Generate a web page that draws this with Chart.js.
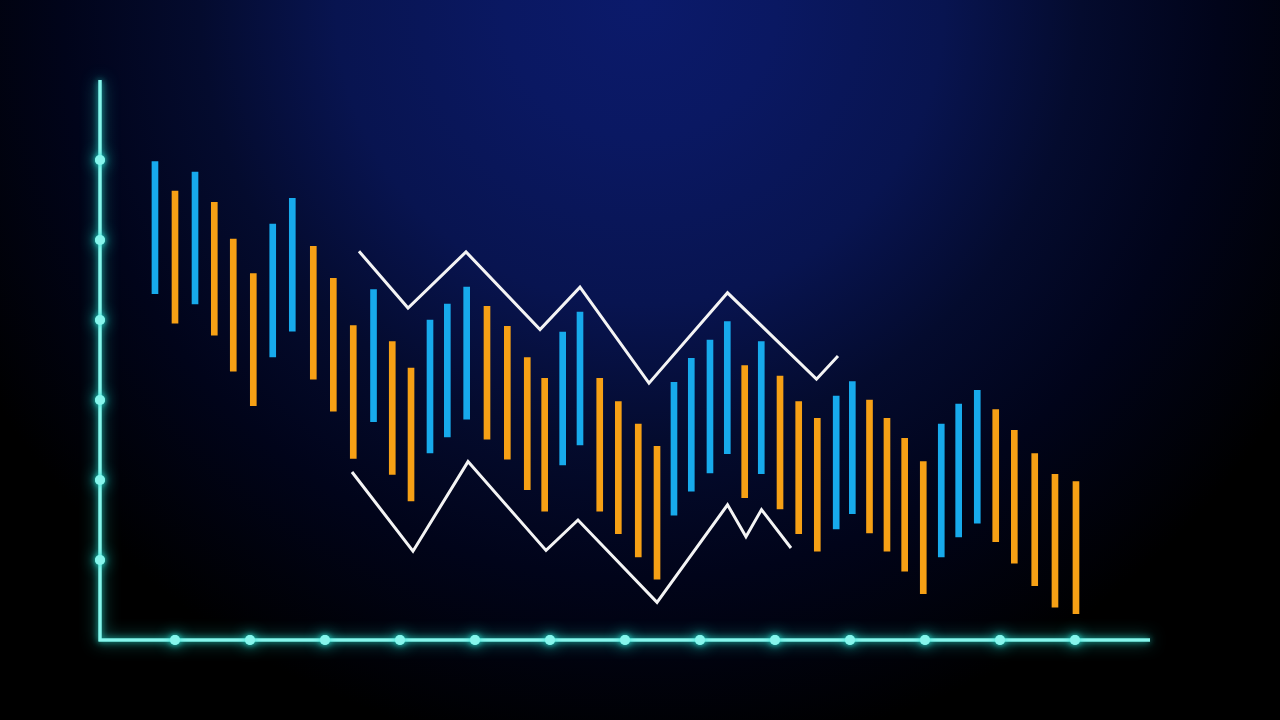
<!DOCTYPE html>
<html>
<head>
<meta charset="utf-8">
<script src="https://cdn.jsdelivr.net/npm/chart.js@4"></script>
<style>
  html, body { margin: 0; padding: 0; width: 1280px; height: 720px; overflow: hidden; }
  body {
    background: #000 radial-gradient(circle 760px at 640px 0px,
      #0b1a6b 0%, #0a1862 18%, #081450 40%, #040b2e 58%, #01041a 76%, #000 100%);
  }
  #c { display: block; }
</style>
</head>
<body>
<canvas id="c" width="1280" height="720"></canvas>
<script>
// Axis ticks
const xTicks = [1, 2, 3, 4, 5, 6, 7, 8, 9, 10, 11, 12, 13];
const yTicks = [1, 2, 3, 4, 5, 6];

// Blue (rising) floating bars
const blueX    = [0.733, 1.267, 2.303, 2.564, 3.647, 4.4, 4.631, 4.889, 6.169, 6.4, 7.653, 7.884, 8.133, 8.364, 8.817, 9.816, 10.031, 11.217, 11.449, 11.697];
const blueLow  = [4.33, 4.2, 3.54, 3.86, 2.73, 2.34, 2.54, 2.76, 2.19, 2.44, 1.56, 1.86, 2.09, 2.33, 2.08, 1.39, 1.58, 1.04, 1.29, 1.46];
const blueHigh = [5.98, 5.85, 5.2, 5.52, 4.38, 4.0, 4.2, 4.41, 3.85, 4.1, 3.22, 3.52, 3.75, 3.98, 3.73, 3.05, 3.23, 2.7, 2.95, 3.12];

// Orange (falling) floating bars
const orangeX    = [1.0, 1.524, 1.777, 2.044, 2.844, 3.111, 3.377, 3.897, 4.147, 5.16, 5.431, 5.697, 5.929, 6.663, 6.911, 7.177, 7.427, 8.596, 9.067, 9.316, 9.564, 10.26, 10.493, 10.729, 10.977, 11.943, 12.191, 12.463, 12.733, 13.013];
const orangeLow  = [3.96, 3.81, 3.36, 2.93, 3.26, 2.86, 2.27, 2.07, 1.74, 2.51, 2.26, 1.88, 1.61, 1.61, 1.33, 1.04, 0.76, 1.78, 1.64, 1.33, 1.11, 1.34, 1.11, 0.86, 0.58, 1.23, 0.96, 0.68, 0.41, 0.33];
const orangeHigh = [5.61, 5.47, 5.01, 4.58, 4.92, 4.52, 3.93, 3.73, 3.4, 4.17, 3.92, 3.53, 3.27, 3.27, 2.98, 2.7, 2.42, 3.43, 3.3, 2.98, 2.77, 3.0, 2.77, 2.52, 2.23, 2.88, 2.62, 2.33, 2.07, 1.98];

// Upper and lower channel lines
const upperX = [3.453, 4.107, 4.88, 5.867, 6.4, 7.32, 8.367, 9.553, 9.84];
const upperY = [4.86, 4.15, 4.85, 3.88, 4.41, 3.21, 4.34, 3.26, 3.55];
const lowerX = [3.36, 4.173, 4.907, 5.947, 6.373, 7.427, 8.367, 8.613, 8.82, 9.213];
const lowerY = [2.1, 1.11, 2.23, 1.12, 1.5, 0.47, 1.69, 1.29, 1.63, 1.15];

const X_MIN = 0, X_MAX = 14, Y_MIN = 0, Y_MAX = 7;

const glowAxes = {
  id: 'glowAxes',
  beforeDatasetsDraw(chart) {
    const ctx = chart.ctx;
    const xs = chart.scales.x, ys = chart.scales.y;
    const x0 = xs.getPixelForValue(X_MIN), x1 = xs.getPixelForValue(X_MAX);
    const y0 = ys.getPixelForValue(Y_MIN), y1 = ys.getPixelForValue(Y_MAX);
    ctx.save();
    for (let pass = 0; pass < 2; pass++) {
      ctx.shadowColor = 'rgba(40, 230, 215, 0.9)';
      ctx.shadowBlur = pass === 0 ? 16 : 6;
      ctx.strokeStyle = '#86f5ec';
      ctx.fillStyle = '#86f5ec';
      ctx.lineWidth = 3;
      ctx.lineCap = 'butt';
      ctx.beginPath();
      ctx.moveTo(x0, y1);
      ctx.lineTo(x0, y0);
      ctx.lineTo(x1, y0);
      ctx.stroke();
      yTicks.forEach(v => {
        ctx.beginPath();
        ctx.arc(x0, ys.getPixelForValue(v), 5, 0, Math.PI * 2);
        ctx.fill();
      });
      xTicks.forEach(v => {
        ctx.beginPath();
        ctx.arc(xs.getPixelForValue(v), y0, 5, 0, Math.PI * 2);
        ctx.fill();
      });
    }
    ctx.restore();
  }
};

new Chart(document.getElementById('c'), {
  type: 'bar',
  data: {
    datasets: [
      {
        type: 'bar',
        label: 'Up',
        data: blueX.map((x, i) => ({ x: x, y: [blueLow[i], blueHigh[i]] })),
        backgroundColor: '#17aaec',
        borderWidth: 0,
        barThickness: 6,
        grouped: false
      },
      {
        type: 'bar',
        label: 'Down',
        data: orangeX.map((x, i) => ({ x: x, y: [orangeLow[i], orangeHigh[i]] })),
        backgroundColor: '#f6a015',
        borderWidth: 0,
        barThickness: 6,
        grouped: false
      },
      {
        type: 'line',
        label: 'Upper',
        data: upperX.map((x, i) => ({ x: x, y: upperY[i] })),
        borderColor: '#f4f4f4',
        borderWidth: 3,
        pointRadius: 0,
        tension: 0,
        fill: false,
        borderJoinStyle: 'miter'
      },
      {
        type: 'line',
        label: 'Lower',
        data: lowerX.map((x, i) => ({ x: x, y: lowerY[i] })),
        borderColor: '#f4f4f4',
        borderWidth: 3,
        pointRadius: 0,
        tension: 0,
        fill: false,
        borderJoinStyle: 'miter'
      }
    ]
  },
  options: {
    responsive: false,
    animation: false,
    layout: { padding: { left: 100, right: 130, top: 80, bottom: 80 } },
    plugins: { legend: { display: false }, tooltip: { enabled: false } },
    scales: {
      x: { type: 'linear', min: X_MIN, max: X_MAX, display: false, offset: false },
      y: { type: 'linear', min: Y_MIN, max: Y_MAX, display: false }
    }
  },
  plugins: [glowAxes]
});
</script>
</body>
</html>
